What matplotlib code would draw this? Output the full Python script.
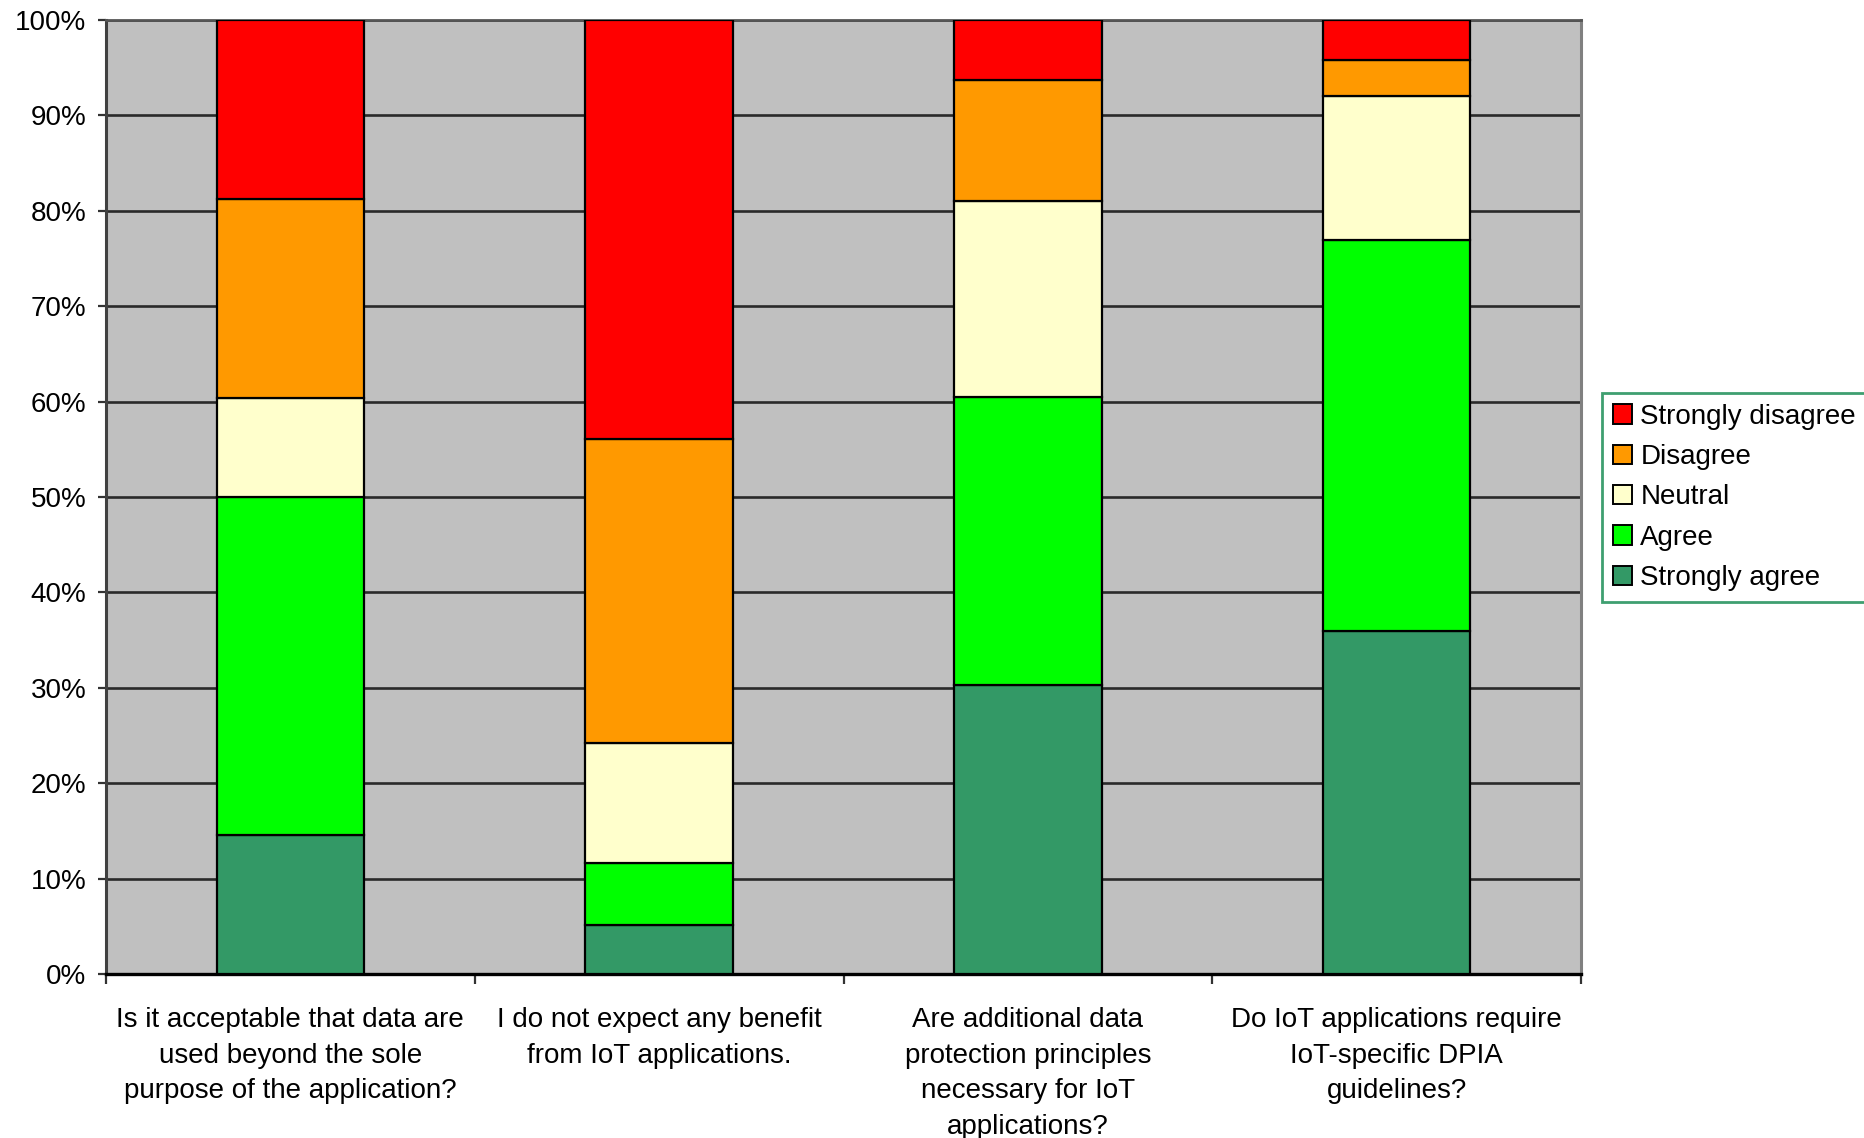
import matplotlib
matplotlib.use("Agg")
import matplotlib.pyplot as plt
from matplotlib.patches import Patch
import numpy as np

plt.rcParams['font.family'] = ['Liberation Sans', 'DejaVu Sans']

categories = [
    "Is it acceptable that data are\nused beyond the sole\npurpose of the application?",
    "I do not expect any benefit\nfrom IoT applications.",
    "Are additional data\nprotection principles\nnecessary for IoT\napplications?",
    "Do IoT applications require\nIoT-specific DPIA\nguidelines?",
]
series_names = ["Strongly agree", "Agree", "Neutral", "Disagree", "Strongly disagree"]
strongly_agree = [14.6, 5.1, 30.3, 36.0]
agree = [35.4, 6.5, 30.2, 40.9]
neutral = [10.4, 12.6, 20.5, 15.1]
disagree = [20.8, 31.9, 12.7, 3.85]
strongly_disagree = [18.8, 43.9, 6.3, 4.15]
colors = ["#339966", "#00FF00", "#FFFFCC", "#FF9900", "#FF0000"]
yticks = list(range(0, 101, 10))
ytick_labels = [f"{v}%" for v in yticks]

fig = plt.figure(figsize=(18.64, 11.38), dpi=100)
ax = fig.add_axes([106/1864, 1 - 974/1138, (1581-106)/1864, (974-20)/1138])
ax.set_facecolor("#C0C0C0")

x = np.arange(len(categories))
bottom = np.zeros(len(categories))
handles = {}
for name, vals, col in zip(series_names,
                           [strongly_agree, agree, neutral, disagree, strongly_disagree],
                           colors):
    ax.bar(x, vals, width=0.4, bottom=bottom, color=col, edgecolor="black",
           linewidth=1.6, zorder=3)
    bottom += np.array(vals)
    handles[name] = Patch(facecolor=col, edgecolor="black", linewidth=1.4)

ax.set_xlim(-0.5, 3.5)
ax.set_ylim(0, 100)
ax.set_yticks(yticks)
ax.set_yticklabels(ytick_labels, fontsize=20)
ax.yaxis.grid(True, color="#2a2a2a", linewidth=1.9, zorder=1)
ax.set_axisbelow(True)

ax.set_xticks(x)
ax.set_xticklabels(categories, fontsize=20, linespacing=1.47)
ax.set_xticks(np.arange(-0.5, 4.0, 1.0), minor=True)
ax.tick_params(axis="x", which="major", length=0, pad=24)
ax.tick_params(axis="x", which="minor", length=7, width=1.6, color="#333333")
ax.tick_params(axis="y", length=6, width=1.6, color="#333333", pad=8)

ax.spines["left"].set_color("#404040")
ax.spines["left"].set_linewidth(2.2)
ax.spines["bottom"].set_color("black")
ax.spines["bottom"].set_linewidth(2.4)
ax.spines["top"].set_color("#555555")
ax.spines["top"].set_linewidth(2.0)
ax.spines["right"].set_color("#808080")
ax.spines["right"].set_linewidth(2.2)

order = ["Strongly disagree", "Disagree", "Neutral", "Agree", "Strongly agree"]
leg = fig.legend([handles[n] for n in order], order,
                 loc="upper left", bbox_to_anchor=(1602/1864, 1 - 393/1138),
                 fontsize=20, handlelength=0.7, handleheight=0.7,
                 handletextpad=0.3, labelspacing=0.52, borderpad=0.38,
                 borderaxespad=0, fancybox=False, framealpha=1)
leg.get_frame().set_edgecolor("#3f9f70")
leg.get_frame().set_linewidth(2.0)

fig.savefig("out.png", dpi=100)
